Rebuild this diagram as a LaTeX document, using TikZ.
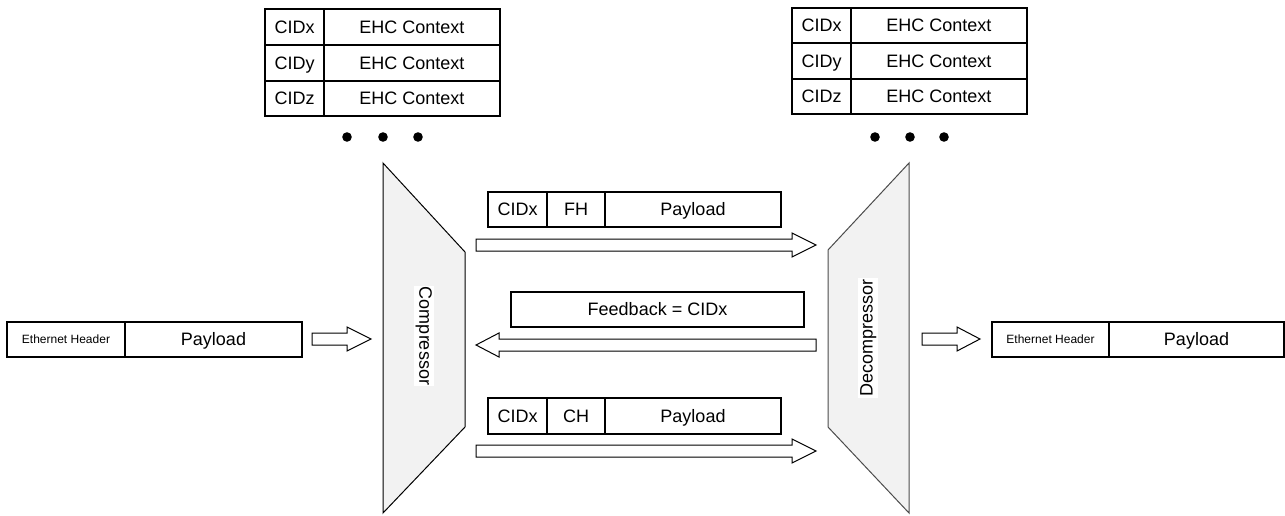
\documentclass[tikz,border=0pt]{standalone}
\usepackage{fontspec}
\setmainfont{Liberation Sans}
\usetikzlibrary{calc}
\definecolor{machfill}{HTML}{F2F2F2}
\tikzset{
  lbl/.style={font=\fontsize{13.5}{16}\selectfont, inner sep=0pt, text height=9.7pt, text depth=0pt},
  small/.style={font=\fontsize{9}{11}\selectfont, inner sep=0pt, text height=6.4pt, text depth=0pt},
  cellline/.style={draw=black, line width=0.9pt},
  blockarrow/.style={draw=black, fill=white, line width=0.75pt, line join=miter},
  machine/.style={fill=machfill, line width=0.75pt, line join=miter},
  machlabel/.style={lbl, fill=white, inner sep=1pt, text depth=2.9pt},
  dotmark/.style={fill=black},
}
\newcommand\tcell[7]{%
  \draw[cellline] (#1,#2) rectangle (#3,#4);
  \node[#7] (#5) at ({(#1+#3)/2},{(#2+#4)/2}) {#6};}
\newcommand\blockarr[5]{%
  \draw[blockarrow] (#1,{#4-6}) -- (#2,{#4-6}) -- (#2,{#4-12}) -- (#3,#4)
    -- (#2,{#4+12}) -- (#2,{#4+6}) -- (#1,{#4+6}) -- cycle;
  \coordinate (#5) at ({(#1+#3)/2},#4);}
\begin{document}
\begin{tikzpicture}[x=0.75pt,y=-0.75pt]
\useasboundingbox (0,0) rectangle (1285,515);

% left context table
\tcell{265}{9}{324}{45}{lx}{CIDx}{lbl}
\tcell{324}{9}{500}{45}{lxc}{EHC Context}{lbl}
\tcell{265}{45}{324}{81}{ly}{CIDy}{lbl}
\tcell{324}{45}{500}{81}{lyc}{EHC Context}{lbl}
\tcell{265}{81}{324}{116}{lz}{CIDz}{lbl}
\tcell{324}{81}{500}{116}{lzc}{EHC Context}{lbl}
\fill[dotmark] (347,137) circle (4.8);
\fill[dotmark] (383,137) circle (4.8);
\fill[dotmark] (418,137) circle (4.8);

% right context table
\tcell{792}{8}{851}{43}{rx}{CIDx}{lbl}
\tcell{851}{8}{1027}{43}{rxc}{EHC Context}{lbl}
\tcell{792}{43}{851}{79}{ry}{CIDy}{lbl}
\tcell{851}{43}{1027}{79}{ryc}{EHC Context}{lbl}
\tcell{792}{79}{851}{114}{rz}{CIDz}{lbl}
\tcell{851}{79}{1027}{114}{rzc}{EHC Context}{lbl}
\fill[dotmark] (875,137) circle (4.8);
\fill[dotmark] (910,137) circle (4.8);
\fill[dotmark] (944,137) circle (4.8);

% compressor / decompressor
\draw[machine, draw=black] (383,163) -- (465,252) -- (465,427) -- (383,513) -- cycle;
\node[machlabel, rotate=-90] (comp) at (424,336) {Compressor};
\draw[machine, draw=black!70] (909,163) -- (828,250) -- (828,427) -- (909,513) -- cycle;
\node[machlabel, rotate=90] (decomp) at (868,338) {Decompressor};

% FH packet
\tcell{488}{192}{547}{227}{fcid}{CIDx}{lbl}
\tcell{547}{192}{605}{227}{ffh}{FH}{lbl}
\tcell{605}{192}{781}{227}{fpl}{Payload}{lbl}
\blockarr{476}{792}{816}{245}{a1}

% feedback
\tcell{511}{292}{804}{327}{fb}{Feedback = CIDx}{lbl}
\blockarr{816}{499}{476}{345}{a2}

% CH packet
\tcell{488}{398}{547}{434}{ccid}{CIDx}{lbl}
\tcell{547}{398}{605}{434}{cch}{CH}{lbl}
\tcell{605}{398}{781}{434}{cpl}{Payload}{lbl}
\blockarr{476}{792}{816}{451}{a3}

% input packet
\tcell{7}{322}{125}{357}{ineth}{Ethernet Header}{small}
\tcell{125}{322}{302}{357}{inpl}{Payload}{lbl}
\blockarr{312}{347}{371}{339}{a4}

% output packet
\tcell{992}{322}{1109}{357}{outeth}{Ethernet Header}{small}
\tcell{1109}{322}{1284}{357}{outpl}{Payload}{lbl}
\blockarr{922}{957}{980}{339}{a5}
\end{tikzpicture}
\end{document}
